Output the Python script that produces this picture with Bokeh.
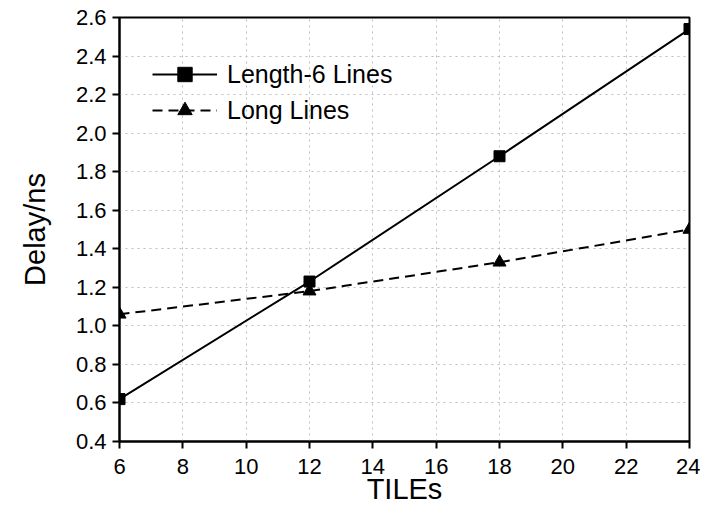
from bokeh.plotting import figure
from bokeh.models import Legend, LegendItem, FixedTicker, ColumnDataSource, PrintfTickFormatter
from bokeh.embed import file_html
from bokeh.resources import INLINE

tiles = [6, 12, 18, 24]
length6 = [0.62, 1.23, 1.88, 2.54]
longlines = [1.06, 1.18, 1.33, 1.50]
x_ticks = [6, 8, 10, 12, 14, 16, 18, 20, 22, 24]
y_ticks = [0.4, 0.6, 0.8, 1.0, 1.2, 1.4, 1.6, 1.8, 2.0, 2.2, 2.4, 2.6]

FONT = "Liberation Sans"

p = figure(width=700, height=508, output_backend="svg", toolbar_location=None,
           x_range=(6, 24), y_range=(0.4, 2.6),
           min_border_left=119, min_border_top=17, min_border_right=11, min_border_bottom=67)
p.background_fill_color = "white"
p.border_fill_color = "white"
p.outline_line_color = "black"
p.outline_line_width = 2

for ax in (p.xaxis[0], p.yaxis[0]):
    ax.axis_line_width = 2
    ax.axis_line_color = "black"
    ax.major_tick_line_width = 2
    ax.major_tick_line_color = "black"
    ax.major_tick_out = 7
    ax.major_tick_in = 0
    ax.minor_tick_line_color = None
    ax.major_label_text_font = FONT
    ax.major_label_text_font_size = "22px"
    ax.major_label_text_color = "black"
    ax.axis_label_text_font = FONT
    ax.axis_label_text_font_size = "29px"
    ax.axis_label_text_font_style = "normal"
    ax.axis_label_text_color = "black"

p.xaxis.ticker = FixedTicker(ticks=x_ticks)
p.yaxis.ticker = FixedTicker(ticks=y_ticks)
p.yaxis.formatter = PrintfTickFormatter(format="%.1f")
p.xaxis.axis_label = "TILEs"
p.yaxis.axis_label = "Delay/ns"
p.xaxis.axis_label_standoff = -4
p.yaxis.axis_label_standoff = 22
p.xaxis.major_label_standoff = 10
p.yaxis.major_label_standoff = 6

for g in (p.xgrid[0], p.ygrid[0]):
    g.grid_line_color = "#bdbdbd"
    g.grid_line_dash = "2 4"
    g.grid_line_width = 1

src1 = ColumnDataSource(dict(x=tiles, y=length6))
src2 = ColumnDataSource(dict(x=tiles, y=longlines))

l1 = p.line("x", "y", source=src1, line_color="black", line_width=2)
m1 = p.scatter("x", "y", source=src1, marker="square", size=11, color="black")
l2 = p.line("x", "y", source=src2, line_color="black", line_width=2, line_dash="10 6")
m2 = p.scatter("x", "y", source=src2, marker="triangle", size=13, color="black")

legend = Legend(items=[LegendItem(label="Length-6 Lines", renderers=[l1, m1]),
                       LegendItem(label="Long Lines", renderers=[l2, m2])],
                location=(33, 313), margin=0, padding=0, spacing=0,
                glyph_width=65, glyph_height=36, label_height=36, label_standoff=10,
                label_text_font=FONT, label_text_font_size="25px", label_text_color="black",
                background_fill_alpha=0, border_line_alpha=0)
p.add_layout(legend, "center")

open("out.html", "w").write(file_html(p, INLINE))
